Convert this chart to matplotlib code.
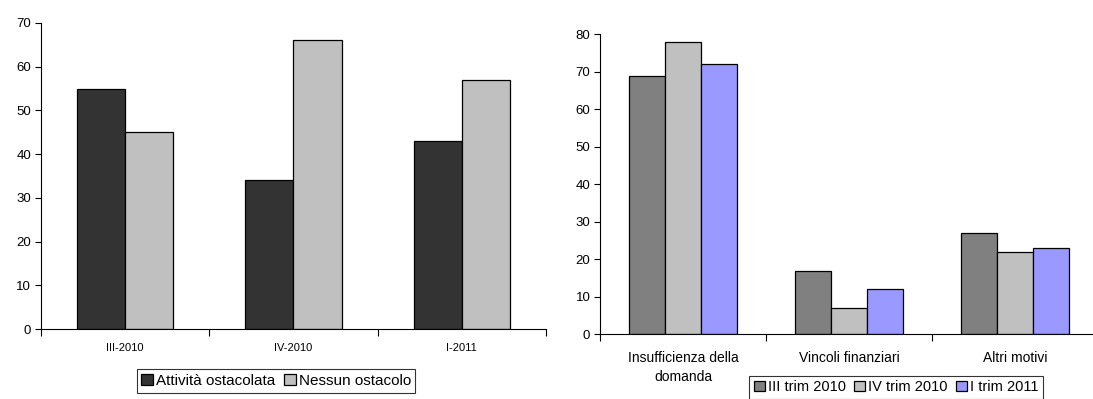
import matplotlib
matplotlib.use("Agg")
import matplotlib.pyplot as plt
import numpy as np

plt.rcParams['font.family'] = ['Liberation Sans', 'DejaVu Sans']

# Left chart data
left_categories = ["III-2010", "IV-2010", "I-2011"]
left_series_names = ["Attività ostacolata", "Nessun ostacolo"]
attivita_ostacolata = [55, 34, 43]
nessun_ostacolo = [45, 66, 57]
left_colors = ["#333333", "#c0c0c0"]

# Right chart data
right_categories = ["Insufficienza della\ndomanda", "Vincoli finanziari", "Altri motivi"]
right_series_names = ["III trim 2010", "IV trim 2010", "I trim 2011"]
iii_trim_2010 = [69, 17, 27]
iv_trim_2010 = [78, 7, 22]
i_trim_2011 = [72, 12, 23]
right_colors = ["#808080", "#c0c0c0", "#9999ff"]

fig = plt.figure(figsize=(10.93, 3.99), dpi=100)

def style_axes(ax, n, ymax, ystep, xfs):
    ax.spines['top'].set_visible(False)
    ax.spines['right'].set_visible(False)
    ax.spines['left'].set_linewidth(0.8)
    ax.spines['bottom'].set_linewidth(0.8)
    ax.set_ylim(0, ymax)
    ax.set_yticks(np.arange(0, ymax + 1, ystep))
    ax.tick_params(axis='y', direction='out', length=4, width=0.8, labelsize=9.5, pad=3)
    ax.set_xlim(-0.5, n - 0.5)
    ax.set_xticks(np.arange(n))
    ax.set_xticks(np.arange(n + 1) - 0.5, minor=True)
    ax.tick_params(axis='x', which='major', length=0, labelsize=xfs, pad=12)
    ax.tick_params(axis='x', which='minor', direction='out', length=5, width=0.8)

# Left
ax1 = fig.add_axes([0.0375, 0.1754, 0.462, 0.767])
x = np.arange(len(left_categories))
w = 0.286
for i, (vals, name, c) in enumerate(zip([attivita_ostacolata, nessun_ostacolo], left_series_names, left_colors)):
    ax1.bar(x + (i - 0.5) * w, vals, w, color=c, edgecolor='black', linewidth=0.9, label=name)
style_axes(ax1, 3, 70, 10, 8)
ax1.set_xticklabels(left_categories)
ax1.tick_params(axis='x', which='major', pad=10)
leg1 = ax1.legend(loc='center', bbox_to_anchor=(0.2525, 0.045), bbox_transform=fig.transFigure,
                  ncol=2, frameon=True, fancybox=False, edgecolor='black', fontsize=11,
                  handlelength=0.75, handleheight=0.75, handletextpad=0.2, columnspacing=0.6,
                  borderpad=0.3, borderaxespad=0)
leg1.get_frame().set_linewidth(0.8)

# Right
ax2 = fig.add_axes([0.549, 0.162, 0.4556, 0.752])
x = np.arange(len(right_categories))
w = 0.217
for i, (vals, name, c) in enumerate(zip([iii_trim_2010, iv_trim_2010, i_trim_2011], right_series_names, right_colors)):
    ax2.bar(x + (i - 1) * w, vals, w, color=c, edgecolor='black', linewidth=0.9, label=name)
style_axes(ax2, 3, 80, 10, 10)
ax2.set_xticklabels(right_categories, linespacing=1.45)
ax2.tick_params(axis='x', which='major', pad=12)
leg2 = ax2.legend(loc='upper center', bbox_to_anchor=(0.820, 0.058), bbox_transform=fig.transFigure,
                  ncol=3, frameon=True, fancybox=False, edgecolor='black', fontsize=10.5,
                  handlelength=0.75, handleheight=0.75, handletextpad=0.2, columnspacing=0.6,
                  borderpad=0.3, borderaxespad=0)
leg2.get_frame().set_linewidth(0.8)

fig.savefig("out.png", dpi=100)
